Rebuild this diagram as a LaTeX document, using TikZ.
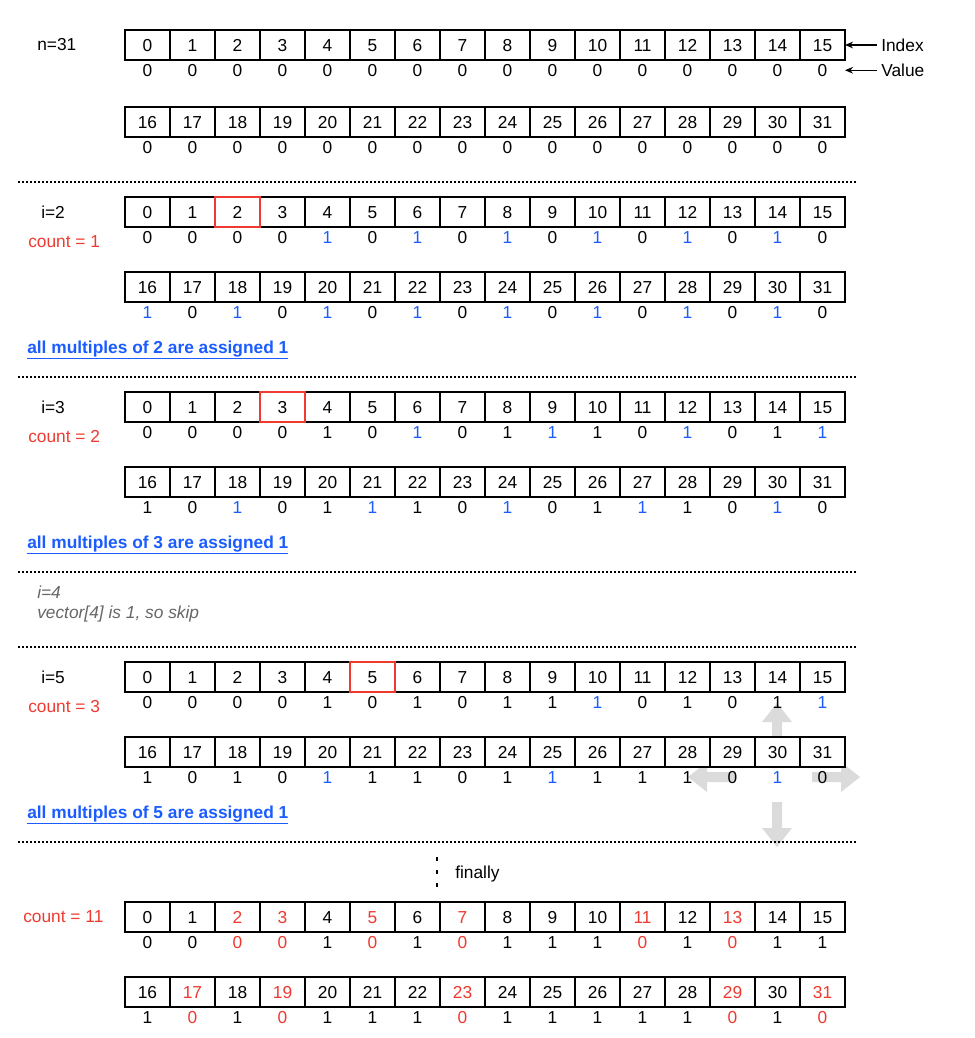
\documentclass[tikz,border=0pt]{standalone}
\usepackage{fontspec}
\setmainfont{Liberation Sans}
\usetikzlibrary{positioning, arrows.meta}
\definecolor{markred}{HTML}{EE3A30}
\definecolor{markblue}{HTML}{1A5CFF}
\definecolor{notegray}{HTML}{666666}
\colorlet{K}{black}
\colorlet{B}{markblue}
\colorlet{R}{markred}
\newcommand{\diagfont}{\fontsize{13}{15.6}\selectfont}
\tikzset{
    cell/.style={draw, line width=1.2pt, fill=white, minimum width=33.75pt, minimum height=22.5pt, inner sep=0pt, outer sep=0pt, text height=9.3pt, text depth=0pt}, % one box of the vector
    val/.style={inner sep=0pt, text height=9.3pt, text depth=0pt}, % the value printed under a box
    lab/.style={inner sep=0pt}, % plain text labels
    hilite/.style={draw=markred, line width=1.1pt}, % box of the current i
    sep/.style={line width=1.1pt, dash pattern=on 1.5pt off 1.5pt}, % dotted separators
    note/.style={inner sep=0pt, text=markblue, font=\diagfont\bfseries}, % blue remarks
    skip/.style={inner sep=0pt, text=notegray, font=\diagfont\itshape}, % grey remark
    move/.style={fill=black!14}, % the grey cross
    >={Stealth[length=6pt, width=5pt]}, % arrow heads
}
% one row of 16 boxes with their values: [index colour]{name}{y}{first index}{value/colour list}
\newcommand{\cellrow}[5][K]{%
    \foreach \v/\vc [count=\k from 0] in {#5} {
        \pgfmathtruncatemacro{\idx}{#4+\k}
        \node[cell, text=#1] (#2c\k) at (147.5+45*\k, #3) {\idx};
        \node[val, text=\vc, below=2.85pt of #2c\k] (#2v\k) {\v};
    }}

\begin{document}
\begin{tikzpicture}[x=0.75pt, y=-0.75pt, font=\diagfont]
    \useasboundingbox (0,0) rectangle (974,1038);
    % grey cross, under the boxes
    \foreach \ang/\from/\tip in {90/35/74, 270/25/70, 180/42/89, 0/35/83}
        \fill[move, shift={(777,777)}, rotate=\ang] (\from,-5) -- (\tip-19,-5) -- (\tip-19,-15) -- (\tip,0) -- (\tip-19,15) -- (\tip-19,5) -- (\from,5) -- cycle;

    % start
    \node[lab, anchor=west] (nlab) at (37,45) {n=31};
    \cellrow{initA}{45}{0}{0/K,0/K,0/K,0/K,0/K,0/K,0/K,0/K,0/K,0/K,0/K,0/K,0/K,0/K,0/K,0/K}
    \cellrow{initB}{122}{16}{0/K,0/K,0/K,0/K,0/K,0/K,0/K,0/K,0/K,0/K,0/K,0/K,0/K,0/K,0/K,0/K}
    \node[lab, right=27pt of initAc15] (index) {Index};
    \node[lab, anchor=west] (value) at (index.west |- initAv15) {Value};
    \draw[->, line width=0.9pt, shorten <=3pt] (index) -- (initAc15);
    \draw[->, line width=0.9pt, shorten <=3pt] (value) -- (initAc15.east |- value);
    \draw[sep] (18,182) -- (857,182);

    % i=2
    \node[lab, anchor=west] (twoLab) at (41,212) {i=2};
    \node[lab, anchor=west, text=markred] (twoCount) at (28,242) {count = 1};
    \cellrow{twoA}{212}{0}{0/K,0/K,0/K,0/K,1/B,0/K,1/B,0/K,1/B,0/K,1/B,0/K,1/B,0/K,1/B,0/K}
    \cellrow{twoB}{287}{16}{1/B,0/K,1/B,0/K,1/B,0/K,1/B,0/K,1/B,0/K,1/B,0/K,1/B,0/K,1/B,0/K}
    \draw[hilite] (twoAc2.south west) rectangle (twoAc2.north east);
    \node[note, anchor=base west] (twoNote) at (27,353) {\underline{all multiples of 2 are assigned 1}};
    \draw[sep] (18,377) -- (857,377);

    % i=3
    \node[lab, anchor=west] (threeLab) at (41,407) {i=3};
    \node[lab, anchor=west, text=markred] (threeCount) at (28,437) {count = 2};
    \cellrow{threeA}{407}{0}{0/K,0/K,0/K,0/K,1/K,0/K,1/B,0/K,1/K,1/B,1/K,0/K,1/B,0/K,1/K,1/B}
    \cellrow{threeB}{482}{16}{1/K,0/K,1/B,0/K,1/K,1/B,1/K,0/K,1/B,0/K,1/K,1/B,1/K,0/K,1/B,0/K}
    \draw[hilite] (threeAc3.south west) rectangle (threeAc3.north east);
    \node[note, anchor=base west] (threeNote) at (27,548) {\underline{all multiples of 3 are assigned 1}};
    \draw[sep] (18,572) -- (857,572);

    % i=4
    \node[skip, anchor=base west] (fourLab) at (37,598) {i=4};
    \node[skip, anchor=base west] (fourNote) at (37,618) {vector[4] is 1, so skip};
    \draw[sep] (18,647) -- (857,647);

    % i=5
    \node[lab, anchor=west] (fiveLab) at (41,677) {i=5};
    \node[lab, anchor=west, text=markred] (fiveCount) at (28,707) {count = 3};
    \cellrow{fiveA}{677}{0}{0/K,0/K,0/K,0/K,1/K,0/K,1/K,0/K,1/K,1/K,1/B,0/K,1/K,0/K,1/K,1/B}
    \cellrow{fiveB}{752}{16}{1/K,0/K,1/K,0/K,1/B,1/K,1/K,0/K,1/K,1/B,1/K,1/K,1/K,0/K,1/B,0/K}
    \draw[hilite] (fiveAc5.south west) rectangle (fiveAc5.north east);
    \node[note, anchor=base west] (fiveNote) at (27,818) {\underline{all multiples of 5 are assigned 1}};
    \draw[sep] (18,842) -- (857,842);

    % finally
    \draw[line width=2.2pt, dash pattern=on 3pt off 6.75pt] (437,857) -- (437,887);
    \node[lab, anchor=base west] (finLab) at (455,878) {finally};
    \node[lab, anchor=west, text=markred] (finCount) at (23,917) {count = 11};
    \cellrow[\vc]{finA}{917}{0}{0/K,0/K,0/R,0/R,1/K,0/R,1/K,0/R,1/K,1/K,1/K,0/R,1/K,0/R,1/K,1/K}
    \cellrow[\vc]{finB}{992}{16}{1/K,0/R,1/K,0/R,1/K,1/K,1/K,0/R,1/K,1/K,1/K,1/K,1/K,0/R,1/K,0/R}
\end{tikzpicture}
\end{document}
